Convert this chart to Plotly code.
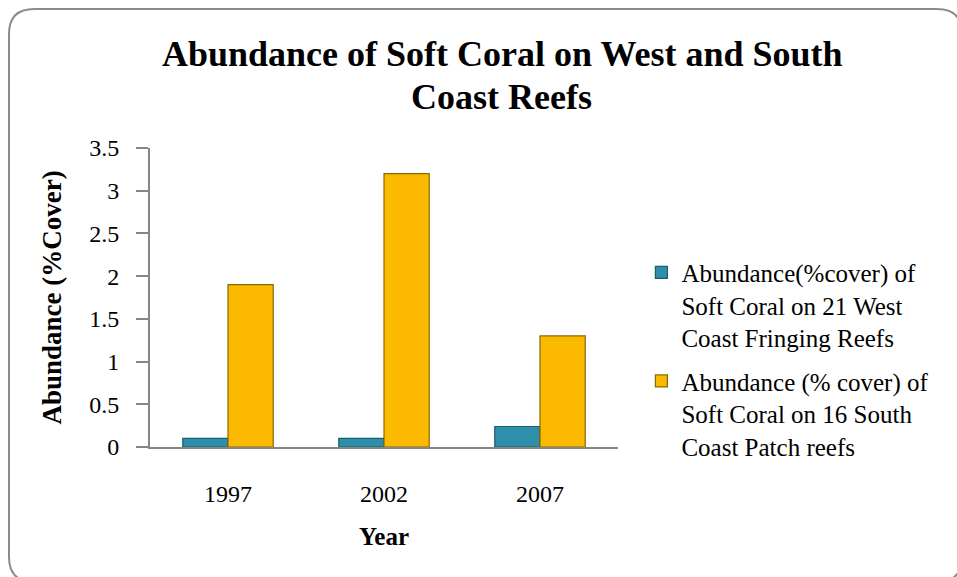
import plotly.graph_objects as go

years = ["1997", "2002", "2007"]
west_coast = [0.1, 0.1, 0.24]
south_coast = [1.9, 3.2, 1.3]
west_name = "Abundance(%cover) of<br>Soft Coral on 21 West<br>Coast Fringing Reefs"
south_name = "Abundance (% cover) of<br>Soft Coral on 16 South<br>Coast Patch reefs"
title_lines = ["Abundance of Soft Coral on West and South", "Coast Reefs"]
y_ticks = [0, 0.5, 1, 1.5, 2, 2.5, 3, 3.5]
y_tick_text = ["0", "0.5", "1", "1.5", "2", "2.5", "3", "3.5"]

FONT = "Liberation Serif"

fig = go.Figure()
fig.add_trace(go.Bar(
    x=years, y=west_coast, name=west_name, legendgroup="a",
    marker=dict(color="#2E8FAA", line=dict(color="#1B5E70", width=1.2)),
))
fig.add_trace(go.Bar(
    x=years, y=south_coast, name=south_name, legendgroup="b",
    marker=dict(color="#FBBA00", line=dict(color="#8A6A00", width=1.2)),
))

# rounded chart frame (decoration), pixel offsets from the plot-area origin
L, R, T, B, r = -141, 812, 438, -135, 25
path = (f"M {L+r},{T} L {R-r},{T} Q {R},{T} {R},{T-r} L {R},{B+r} Q {R},{B} {R-r},{B} "
        f"L {L+r},{B} Q {L},{B} {L},{B+r} L {L},{T-r} Q {L},{T} {L+r},{T} Z")
fig.add_shape(type="path", path=path, xref="paper", yref="paper",
              xsizemode="pixel", ysizemode="pixel", xanchor=0, yanchor=0,
              line=dict(color="#8C8C8C", width=2), layer="below")

for line, ypos in zip(title_lines, [1.313, 1.169]):
    fig.add_annotation(text=f"<b>{line}</b>", xref="paper", yref="paper",
                       x=0.752, y=ypos, xanchor="center", yanchor="middle",
                       showarrow=False, font=dict(family=FONT, size=36, color="black"))

fig.update_layout(
    width=957, height=577,
    margin=dict(l=150, r=339, t=148, b=130),
    paper_bgcolor="white", plot_bgcolor="white",
    font=dict(family=FONT, color="black", size=24),
    barmode="group", bargap=0.42, bargroupgap=0,
    showlegend=True,
    legend=dict(x=1.05, xanchor="left", y=0.66, yanchor="top", valign="top",
                font=dict(family=FONT, size=25, color="black"),
                tracegroupgap=8, bgcolor="rgba(0,0,0,0)"),
    xaxis=dict(showline=True, linecolor="#868686", linewidth=2, ticks="",
               tickfont=dict(family=FONT, size=24), ticklabelstandoff=24,
               title=dict(text="<b>Year</b>", font=dict(family=FONT, size=25), standoff=22),
               showgrid=False, zeroline=False),
    yaxis=dict(range=[0, 3.5], tickvals=y_ticks, ticktext=y_tick_text,
               showline=True, linecolor="#868686", linewidth=2,
               ticks="outside", ticklen=12, tickcolor="#868686", tickwidth=2,
               tickfont=dict(family=FONT, size=24), ticklabelstandoff=12,
               title=dict(text="<b>Abundance (%Cover)</b>", font=dict(family=FONT, size=27), standoff=20),
               showgrid=False, zeroline=False),
)

fig.write_html("out.html")
